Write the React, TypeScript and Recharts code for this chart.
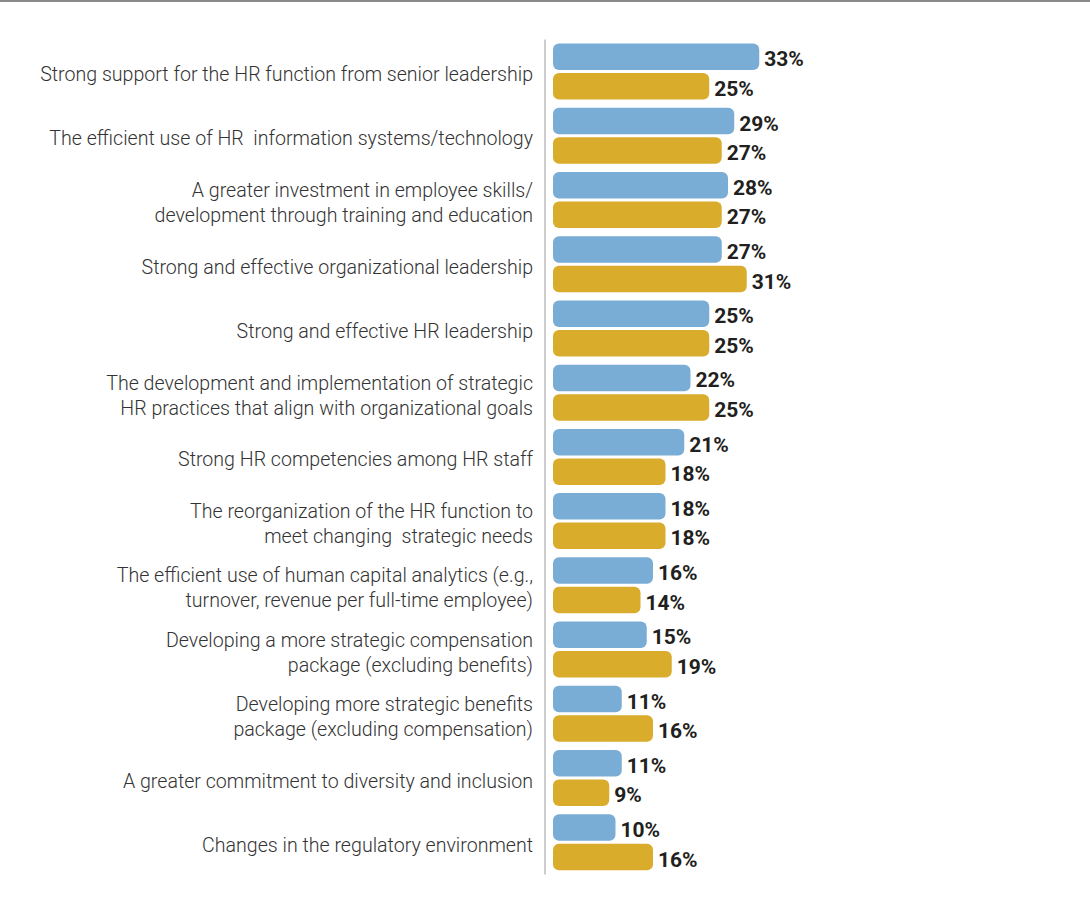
import React from 'react';
import { BarChart, Bar, XAxis, YAxis, LabelList } from 'recharts';

const categories = [
  ['Strong support for the HR function from senior leadership'],
  ['The efficient use of HR  information systems/technology'],
  ['A greater investment in employee skills/', 'development through training and education'],
  ['Strong and effective organizational leadership'],
  ['Strong and effective HR leadership'],
  ['The development and implementation of strategic', 'HR practices that align with organizational goals'],
  ['Strong HR competencies among HR staff'],
  ['The reorganization of the HR function to', 'meet changing  strategic needs'],
  ['The efficient use of human capital analytics (e.g.,', 'turnover, revenue per full-time employee)'],
  ['Developing a more strategic compensation', 'package (excluding benefits)'],
  ['Developing more strategic benefits', 'package (excluding compensation)'],
  ['A greater commitment to diversity and inclusion'],
  ['Changes in the regulatory environment'],
];

const blueValues = [33, 29, 28, 27, 25, 22, 21, 18, 16, 15, 11, 11, 10];
const goldValues = [25, 27, 27, 31, 25, 25, 18, 18, 14, 19, 16, 9, 16];

const data = categories.map((lines, i) => ({
  name: lines.join('|'),
  blue: blueValues[i],
  gold: goldValues[i],
}));

const CategoryTick = (props: any) => {
  const { x, y, payload } = props;
  const lines: string[] = String(payload.value).split('|');
  const lineHeight = 25;
  const startY = y + 2.5 - ((lines.length - 1) * lineHeight) / 2;
  return (
    <text
      x={x}
      y={startY}
      textAnchor="end"
      fill="#333"
      fontSize={19.6}
      fontWeight={300}
      fontFamily="Roboto, sans-serif"
      style={{ whiteSpace: 'pre' }}
    >
      {lines.map((line, i) => (
        <tspan key={i} x={x} y={startY + i * lineHeight} dy="0.35em">
          {line}
        </tspan>
      ))}
    </text>
  );
};

const ValueLabel = (props: any) => {
  const { x, y, width, height, value } = props;
  return (
    <text
      x={x + width + 5}
      y={y + height / 2 + 2}
      dy="0.36em"
      fill="#231f20"
      fontSize={21}
      fontWeight={700}
      fontFamily="Roboto, sans-serif"
    >
      {`${value}%`}
    </text>
  );
};

const App: React.FC = () => {
  return (
    <div style={{ width: 1090, height: 916, background: '#fff', position: 'relative' }}>
      <style>{'body{margin:0}'}</style>
      <div style={{ position: 'absolute', top: 0, left: 0, width: 1090, height: 2, background: '#8a8a8a' }} />
      <BarChart
        width={1090}
        height={916}
        data={data}
        layout="vertical"
        margin={{ top: 39.5, right: 37, left: 0, bottom: 41.5 }}
        barSize={26.5}
        barGap={3}
      >
        <XAxis type="number" domain={[-1.28, 80]} hide />
        <YAxis
          type="category"
          dataKey="name"
          width={545}
          tickSize={0}
          tickMargin={12}
          axisLine={{ stroke: '#9a9a9a', strokeWidth: 1 }}
          tickLine={false}
          tick={<CategoryTick />}
          interval={0}
        />
        <Bar dataKey="blue" fill="#7aadd5" radius={6} isAnimationActive={false}>
          <LabelList dataKey="blue" content={<ValueLabel />} />
        </Bar>
        <Bar dataKey="gold" fill="#daac2b" radius={6} isAnimationActive={false}>
          <LabelList dataKey="gold" content={<ValueLabel />} />
        </Bar>
      </BarChart>
    </div>
  );
};

export default App;
